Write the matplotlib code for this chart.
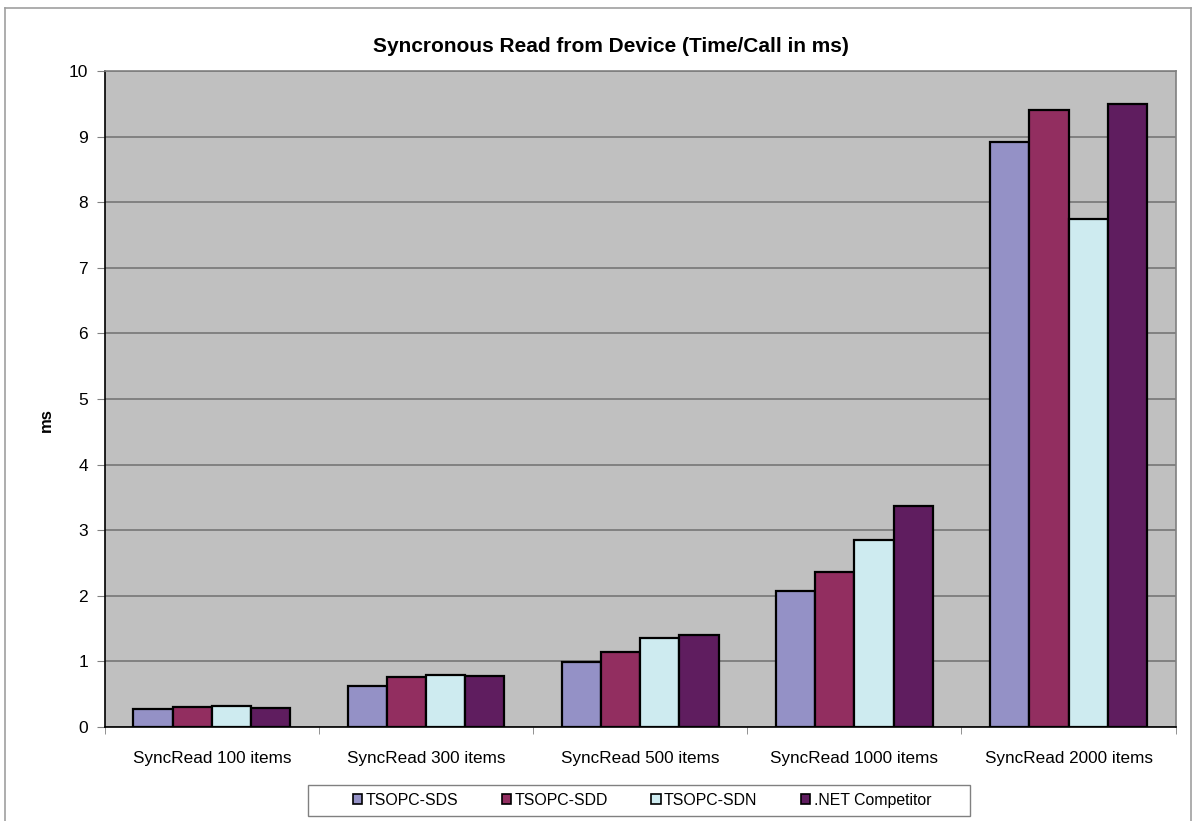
import numpy as np
import matplotlib.pyplot as plt
from matplotlib.lines import Line2D

plt.rcParams['font.family'] = ['Liberation Sans', 'DejaVu Sans']

categories = ['SyncRead 100 items', 'SyncRead 300 items', 'SyncRead 500 items',
              'SyncRead 1000 items', 'SyncRead 2000 items']
series = ['TSOPC-SDS', 'TSOPC-SDD', 'TSOPC-SDN', '.NET Competitor']
sds = [0.27, 0.62, 0.985, 2.07, 8.915]
sdd = [0.305, 0.76, 1.15, 2.36, 9.41]
sdn = [0.327, 0.80, 1.355, 2.85, 7.74]
net = [0.285, 0.77, 1.41, 3.37, 9.50]
colors = ['#9491C6', '#922E60', '#CEEBF0', '#5F1D5F']

W, H = 1196, 821
fig = plt.figure(figsize=(W / 100, H / 100), dpi=100)
ax = fig.add_axes([0.0875, 0.1145, 0.8955, 0.799])
ax.set_facecolor('#C0C0C0')

x = np.arange(len(categories))
w = 0.183
for i, (vals, c) in enumerate(zip([sds, sdd, sdn, net], colors)):
    ax.bar(x + (i - 1.5) * w, vals, width=w, color=c, edgecolor='black',
           linewidth=1.6, label=series[i], zorder=3)

ax.set_xlim(-0.5, len(categories) - 0.5)
ax.set_ylim(0, 10)
ax.set_yticks(range(0, 11))
ax.tick_params(axis='y', labelsize=12.5, length=6, color='#808080', pad=6)
ax.set_xticks(x)
ax.set_xticklabels(categories, fontsize=12.3)
ax.tick_params(axis='x', length=0, pad=17)
# category separators below the axis
ax.set_xticks(np.arange(-0.5, len(categories)), minor=True)
ax.tick_params(axis='x', which='minor', length=5, color='#808080')

ax.yaxis.grid(True, color='#707070', linewidth=1.1, zorder=1)
ax.set_axisbelow(True)
for s in ['top', 'right']:
    ax.spines[s].set_color('#808080')
    ax.spines[s].set_linewidth(1.2)
for s in ['left', 'bottom']:
    ax.spines[s].set_color('black')
    ax.spines[s].set_linewidth(1.2)

fig.text(611 / W, 1 - 47 / H, 'Syncronous Read from Device (Time/Call in ms)',
         fontsize=15, fontweight='bold', ha='center', va='center')
ax.set_ylabel('ms', fontsize=12, fontweight='bold')
ax.yaxis.set_label_coords(-0.047, 0.468)

handles = [plt.Rectangle((0, 0), 1, 1, facecolor=c, edgecolor='black', linewidth=1.2)
           for c in colors]
fig.legend(handles, series, loc='center', bbox_to_anchor=(642 / W, 1 - 800.5 / H),
           ncol=4, fontsize=11.4, frameon=False,
           handlelength=0.6, handleheight=0.6, handletextpad=0.2,
           columnspacing=2.75)
# legend frame
fig.add_artist(plt.Rectangle((308 / W, 1 - 816 / H), 662 / W, 31 / H,
                             transform=fig.transFigure, fill=False,
                             edgecolor='#808080', linewidth=1.0))

# outer chart border
for xs, ys in [([0.004, 0.004], [0.0, 0.99]), ([0.004, 0.996], [0.99, 0.99]),
               ([0.996, 0.996], [0.0, 0.99])]:
    fig.add_artist(Line2D(xs, ys, color='#A0A0A0', linewidth=1.2,
                          transform=fig.transFigure))

fig.savefig('out.png', dpi=100, facecolor='white')
